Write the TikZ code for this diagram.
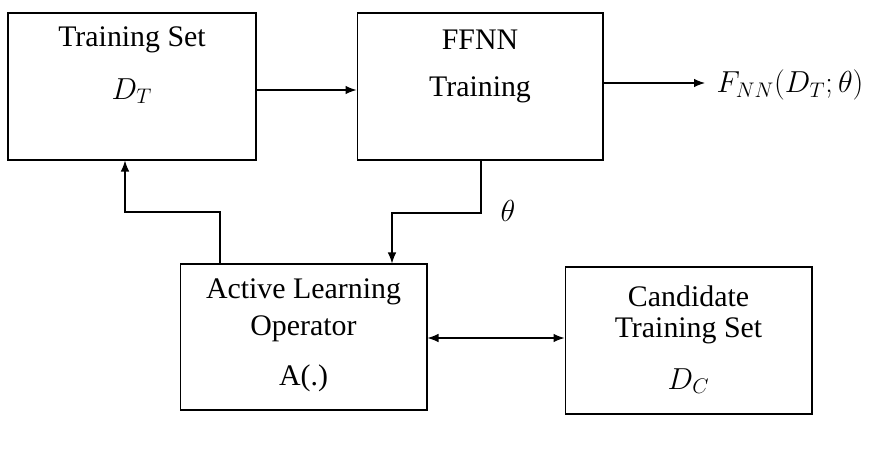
\documentclass[tikz,border=0pt]{standalone}
\usepackage{fontspec}
\setmainfont{Liberation Serif}
\usetikzlibrary{arrows.meta}
\begin{document}
\begin{tikzpicture}[x=0.02cm, y=-0.02cm,
    boxStyle/.style={draw, line width=0.6pt, inner sep=0pt},
    txtStyle/.style={font=\fontsize{17}{20}\selectfont, inner sep=0pt},
    arrStyle/.style={line width=0.6pt, -{Latex[length=0.22cm, width=0.17cm]}},
    dblStyle/.style={line width=0.6pt, {Latex[length=0.22cm, width=0.17cm]}-{Latex[length=0.22cm, width=0.17cm]}}]
    \useasboundingbox (0,0) rectangle (875,457);

    % boxes
    \node[boxStyle, minimum width=4.96cm, minimum height=2.94cm](train) at (132, 86.5) {};
    \node[boxStyle, minimum width=4.92cm, minimum height=2.94cm](ffnn) at (480, 86.5) {};
    \node[boxStyle, minimum width=4.94cm, minimum height=2.92cm](alo) at (303.5, 337) {};
    \node[boxStyle, minimum width=4.94cm, minimum height=2.94cm](cand) at (688.5, 340.5) {};

    % texts
    \node[txtStyle](train1) at (132, 40) {Training Set};
    \node[txtStyle](train2) at (132, 91) {$D_T$};
    \node[txtStyle](ffnn1) at (480, 40) {FFNN};
    \node[txtStyle](ffnn2) at (480, 90) {Training};
    \node[txtStyle](alo1) at (303.5, 292) {Active Learning};
    \node[txtStyle](alo2) at (303.5, 329) {Operator};
    \node[txtStyle](alo3) at (303.5, 378) {A(.)};
    \node[txtStyle](cand1) at (688.5, 296) {Candidate};
    \node[txtStyle](cand2) at (688.5, 331) {Training Set};
    \node[txtStyle](cand3) at (688.5, 381) {$D_C$};
    \node[txtStyle](theta) at (508, 211) {$\theta$};
    \node[txtStyle](fnn) at (790, 85) {$F_{NN}(D_T;\theta)$};
    \coordinate (out) at (705, 83);

    % connectors
    \draw[arrStyle] (train.east |- 0, 90) -- (ffnn.west |- 0, 90);
    \draw[arrStyle] (ffnn.east |- 0, 83) -- (out);
    \draw[arrStyle] (ffnn.south -| 481, 0) |- (392, 213) -- (alo.north -| 392, 0);
    \draw[arrStyle] (alo.north -| 220, 0) |- (125, 212) -- (train.south -| 125, 0);
    \draw[dblStyle] (alo.east |- 0, 338) -- (cand.west |- 0, 338);
\end{tikzpicture}
\end{document}
